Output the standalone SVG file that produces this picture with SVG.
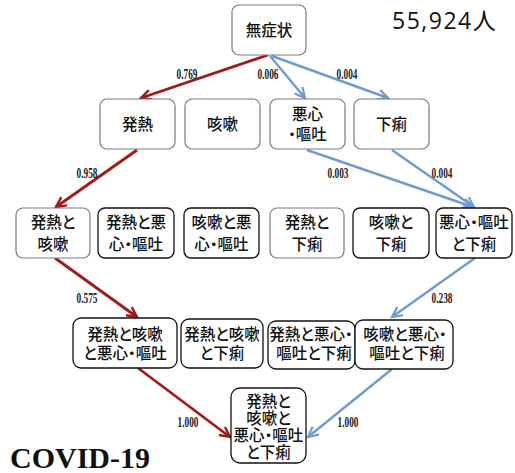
<svg xmlns="http://www.w3.org/2000/svg" width="515" height="473" viewBox="0 0 515 473">
<defs>
<style>
.box{fill:#fff;stroke:#7a7a7a;stroke-width:1.2}
.boxd{fill:#fff;stroke:#111;stroke-width:1.3}
.jp{font-family:"Noto Sans CJK JP","Noto Sans",sans-serif;font-size:15.5px;font-weight:500;fill:#111;text-anchor:middle;font-feature-settings:"palt"}
.lbl{font-family:"Liberation Serif",serif;font-size:15px;font-weight:bold;fill:#222;text-anchor:middle}
.red{stroke:#9e1b1b;stroke-width:2.8;fill:none}
.blue{stroke:#6f9bd2;stroke-width:2.4;fill:none}
</style>
<marker id="ar" markerUnits="userSpaceOnUse" markerWidth="16" markerHeight="16" refX="12" refY="6" orient="auto">
<path d="M2,1 L12,6 L2,11" fill="none" stroke="#9e1b1b" stroke-width="2.4"/>
</marker>
<marker id="ab" markerUnits="userSpaceOnUse" markerWidth="16" markerHeight="16" refX="12" refY="6" orient="auto">
<path d="M2,1 L12,6 L2,11" fill="none" stroke="#6f9bd2" stroke-width="2.2"/>
</marker>
</defs>
<rect width="515" height="473" fill="#fff"/>

<g id="connectors">
<line class="red" x1="268" y1="55" x2="141" y2="98" marker-end="url(#ar)"/>
<line class="blue" x1="270" y1="56" x2="305" y2="98" marker-end="url(#ab)"/>
<line class="blue" x1="272" y1="56" x2="388" y2="98" marker-end="url(#ab)"/>
<line class="red" x1="137" y1="150" x2="56" y2="207" marker-end="url(#ar)"/>
<line class="blue" x1="307" y1="150" x2="473" y2="207" marker-end="url(#ab)"/>
<line class="blue" x1="392" y1="150" x2="474" y2="207" marker-end="url(#ab)"/>
<line class="red" x1="55" y1="258" x2="137" y2="317" marker-end="url(#ar)"/>
<line class="blue" x1="475" y1="258" x2="392" y2="317" marker-end="url(#ab)"/>
<line class="red" x1="138" y1="368" x2="230" y2="437" marker-end="url(#ar)"/>
<line class="blue" x1="392" y1="369" x2="308" y2="437" marker-end="url(#ab)"/>
<text class="lbl" x="187" y="79" textLength="21" lengthAdjust="spacingAndGlyphs">0.769</text>
<text class="lbl" x="268" y="79" textLength="21" lengthAdjust="spacingAndGlyphs">0.006</text>
<text class="lbl" x="347" y="79" textLength="21" lengthAdjust="spacingAndGlyphs">0.004</text>
<text class="lbl" x="87" y="178" textLength="21" lengthAdjust="spacingAndGlyphs">0.958</text>
<text class="lbl" x="338" y="178" textLength="21" lengthAdjust="spacingAndGlyphs">0.003</text>
<text class="lbl" x="442" y="178" textLength="21" lengthAdjust="spacingAndGlyphs">0.004</text>
<text class="lbl" x="87" y="303" textLength="21" lengthAdjust="spacingAndGlyphs">0.575</text>
<text class="lbl" x="442" y="303" textLength="21" lengthAdjust="spacingAndGlyphs">0.238</text>
<text class="lbl" x="188" y="427" textLength="21" lengthAdjust="spacingAndGlyphs">1.000</text>
<text class="lbl" x="348" y="427" textLength="21" lengthAdjust="spacingAndGlyphs">1.000</text>
</g>

<g id="n0"><rect class="box" x="232" y="5" width="74" height="50" rx="7"/><text class="jp" x="269" y="36">無症状</text></g>
<text x="392" y="29" font-family="'Open Sans','Noto Sans',sans-serif" font-size="23" letter-spacing="1.5" fill="#111">55,924<tspan font-family="'Noto Sans CJK JP',sans-serif">人</tspan></text>

<g id="n1"><rect class="box" x="100" y="99" width="75" height="50" rx="7"/><text class="jp" x="137.5" y="130">発熱</text></g>
<g id="n2"><rect class="box" x="185" y="99" width="75" height="50" rx="7"/><text class="jp" x="222.5" y="130">咳嗽</text></g>
<g id="n3"><rect class="box" x="270" y="99" width="75" height="50" rx="7"/><text class="jp" x="307.5" y="120">悪心</text><text class="jp" x="307.5" y="140">・嘔吐</text></g>
<g id="n4"><rect class="box" x="354" y="99" width="75" height="50" rx="7"/><text class="jp" x="391.5" y="130">下痢</text></g>

<g id="n5"><rect class="box" x="16" y="208" width="74" height="50" rx="7"/><text class="jp" x="53" y="228">発熱と</text><text class="jp" x="53" y="250">咳嗽</text></g>
<g id="n6"><rect class="boxd" x="98" y="208" width="76" height="50" rx="7"/><text class="jp" x="136" y="228">発熱と悪</text><text class="jp" x="136" y="250">心・嘔吐</text></g>
<g id="n7"><rect class="boxd" x="184" y="208" width="75" height="50" rx="7"/><text class="jp" x="221.5" y="228">咳嗽と悪</text><text class="jp" x="221.5" y="250">心・嘔吐</text></g>
<g id="n8"><rect class="box" x="270" y="208" width="74" height="50" rx="7"/><text class="jp" x="307" y="228">発熱と</text><text class="jp" x="307" y="250">下痢</text></g>
<g id="n9"><rect class="boxd" x="353" y="208" width="76" height="50" rx="7"/><text class="jp" x="391" y="228">咳嗽と</text><text class="jp" x="391" y="250">下痢</text></g>
<g id="n10"><rect class="boxd" x="436" y="208" width="76" height="50" rx="7"/><text class="jp" x="474" y="228">悪心・嘔吐</text><text class="jp" x="474" y="250">と下痢</text></g>

<g id="n11"><rect class="boxd" x="73" y="318" width="104" height="50" rx="8"/><text class="jp" x="125" y="340">発熱と咳嗽</text><text class="jp" x="125" y="359">と悪心・嘔吐</text></g>
<g id="n12"><rect class="boxd" x="181" y="319" width="82" height="49" rx="8"/><text class="jp" x="222" y="340">発熱と咳嗽</text><text class="jp" x="222" y="359">と下痢</text></g>
<g id="n13"><rect class="boxd" x="268" y="321" width="87" height="48" rx="8"/><text class="jp" x="311" y="340">発熱と悪心・</text><text class="jp" x="314" y="359">嘔吐と下痢</text></g>
<g id="n14"><rect class="boxd" x="355" y="320" width="98" height="49" rx="8"/><text class="jp" x="405" y="340">咳嗽と悪心・</text><text class="jp" x="407" y="359">嘔吐と下痢</text></g>

<g id="n15"><rect class="boxd" x="231" y="388" width="75" height="75" rx="9"/><text class="jp" x="268.5" y="407" font-size="14.5">発熱と</text><text class="jp" x="268.5" y="424" font-size="14.5">咳嗽と</text><text class="jp" x="268.5" y="441" font-size="14.5">悪心・嘔吐</text><text class="jp" x="268.5" y="458" font-size="14.5">と下痢</text></g>

<text x="10" y="468" font-family="'Liberation Serif',serif" font-size="30" font-weight="bold" fill="#111">COVID-19</text>
</svg>
